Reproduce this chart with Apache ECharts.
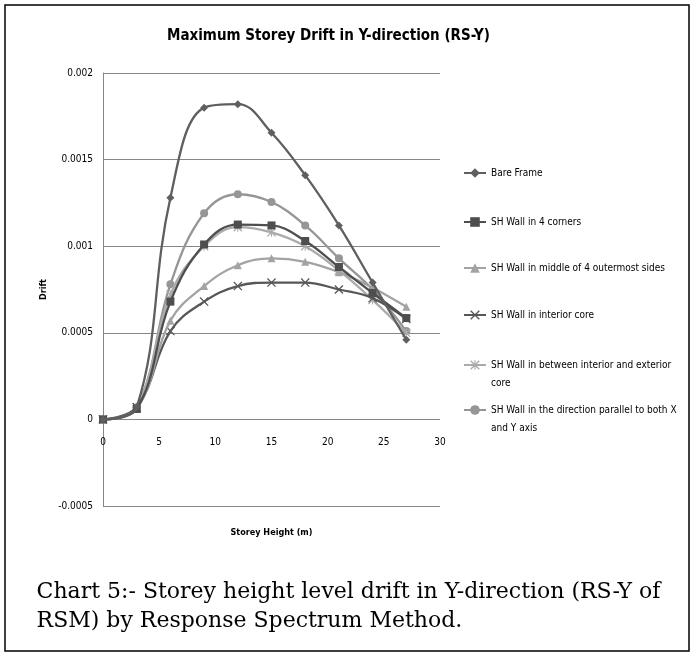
<!DOCTYPE html>
<html>
<head>
<meta charset="utf-8">
<script src="https://cdn.jsdelivr.net/npm/echarts@6/dist/echarts.min.js"></script>
<style>
html,body{margin:0;padding:0;background:#fff;}
#chart{width:697px;height:657px;}
</style>
</head>
<body>
<div id="chart"></div>
<script>
// ---- data ----
var heights = [0, 3, 6, 9, 12, 15, 18, 21, 24, 27];
var seriesNames = [
  'Bare Frame',
  'SH Wall in 4 corners',
  'SH Wall in middle of 4 outermost sides',
  'SH Wall in interior core',
  'SH Wall in between interior and exterior core',
  'SH Wall in the direction parallel to both X and Y axis'
];
var legendLabels = [
  'Bare Frame',
  'SH Wall in 4 corners',
  'SH Wall in middle of 4 outermost sides',
  'SH Wall in interior core',
  '\nSH Wall in between interior and exterior\ncore',
  '\nSH Wall in the direction parallel to both X\nand Y axis'
];
var bareFrame = [0, 0.00007, 0.00128, 0.0018, 0.00182, 0.001655, 0.00141, 0.00112, 0.00079, 0.00046];
var corners   = [0, 0.00006, 0.00068, 0.00101, 0.001125, 0.00112, 0.00103, 0.00088, 0.00073, 0.000585];
var middle    = [0, 0.00006, 0.00057, 0.00077, 0.00089, 0.00093, 0.00091, 0.00085, 0.00076, 0.00065];
var interior  = [0, 0.00007, 0.00051, 0.00068, 0.00077, 0.00079, 0.00079, 0.00075, 0.0007, 0.00058];
var between   = [0, 0.00007, 0.00072, 0.001, 0.00111, 0.00108, 0.001, 0.00086, 0.00069, 0.0005];
var parallel  = [0, 0.00007, 0.00078, 0.00119, 0.0013, 0.001255, 0.00112, 0.00093, 0.00075, 0.00051];
var yTicks = [-0.0005, 0, 0.0005, 0.001, 0.0015, 0.002];
var xTicks = [0, 5, 10, 15, 20, 25, 30];
var titleText = 'Maximum Storey Drift in Y-direction (RS-Y)';
var captionLines = ['Chart 5:- Storey height level drift in Y-direction (RS-Y of', 'RSM) by Response Spectrum Method.'];

var values = [bareFrame, corners, middle, interior, between, parallel];
var colors = ['#5f5f5f', '#4e4e4e', '#a3a3a3', '#575757', '#ababab', '#969696'];
var X_PATH = 'path://M0,1 L1,0 L5,4 L9,0 L10,1 L6,5 L10,9 L9,10 L5,6 L1,10 L0,9 L4,5 Z';
var STAR_PATH = 'path://M0,1 L1,0 L5,4 L9,0 L10,1 L6,5 L10,9 L9,10 L5,6 L1,10 L0,9 L4,5 Z M4.4,0 L5.6,0 L5.6,10 L4.4,10 Z';
var symbols = ['diamond', 'rect', 'triangle', X_PATH, STAR_PATH, 'circle'];
var symSizes = [8, 8, 8, 9, 9, 8];

var FONT = '"DejaVu Sans Condensed", "Liberation Sans", sans-serif';

var series = values.map(function (v, i) {
  return {
    name: seriesNames[i],
    type: 'line',
    smooth: 0.4,
    data: heights.map(function (h, j) { return [h, v[j]]; }),
    symbol: symbols[i],
    symbolSize: symSizes[i],
    showAllSymbol: true,
    lineStyle: { width: 2.3, color: colors[i] },
    itemStyle: { color: colors[i] },
    z: 10 - i
  };
});

var legendTops = [164, 213, 259, 306, 338, 383];
var legends = seriesNames.map(function (n, i) {
  return {
    data: [n],
    orient: 'vertical',
    left: 463,
    top: legendTops[i],
    padding: 0,
    itemWidth: 22,
    itemHeight: 12,
    itemGap: 0,
    selectedMode: false,
    formatter: function (name) { return legendLabels[seriesNames.indexOf(name)]; },
    textStyle: { fontFamily: FONT, fontSize: 10, color: '#000', lineHeight: 18 }
  };
});

var chart = echarts.init(document.getElementById('chart'), null, { renderer: 'canvas' });
chart.setOption({
  backgroundColor: '#fff',
  animation: false,
  title: {
    text: titleText,
    left: 167,
    top: 29,
    padding: 0,
    textStyle: { fontFamily: FONT, fontSize: 15, fontWeight: 'bold', color: '#000' }
  },
  legend: legends,
  grid: { left: 103, right: 257, top: 73, bottom: 151, containLabel: false },
  xAxis: {
    type: 'value',
    min: 0, max: 30, interval: 5,
    offset: -88,
    name: 'Storey Height (m)',
    nameLocation: 'middle',
    nameGap: 110,
    nameTextStyle: { fontFamily: FONT, fontSize: 9, fontWeight: 'bold', color: '#000' },
    axisLine: { onZero: false, show: false },
    axisTick: { show: false },
    splitLine: { show: false },
    axisLabel: {
      fontFamily: FONT, fontSize: 10, color: '#000', margin: 19,
      formatter: function (v) { return xTicks.indexOf(v) >= 0 ? String(v) : ''; }
    }
  },
  yAxis: {
    type: 'value',
    min: -0.0005, max: 0.002, interval: 0.0005,
    name: 'Drift',
    nameLocation: 'middle',
    nameRotate: 90,
    nameGap: 55,
    nameTextStyle: { fontFamily: FONT, fontSize: 9, fontWeight: 'bold', color: '#000' },
    axisLine: { show: true, lineStyle: { color: '#868686', width: 1 } },
    axisTick: { show: false },
    splitLine: { show: true, lineStyle: { color: '#868686', width: 1 } },
    axisLabel: {
      fontFamily: FONT, fontSize: 10, color: '#000', margin: 10,
      formatter: function (v) {
        for (var k = 0; k < yTicks.length; k++) {
          if (Math.abs(yTicks[k] - v) < 1e-9) return String(yTicks[k]);
        }
        return '';
      }
    }
  },
  graphic: [
    {
      type: 'rect', silent: true, z: -1,
      shape: { x: 5, y: 5, width: 684, height: 646 },
      style: { fill: 'none', stroke: '#000', lineWidth: 1.5 }
    },
    {
      type: 'text', left: 'center', top: 578,
      style: {
        text: captionLines.join('\n'),
        font: '22px "DejaVu Serif", "Liberation Serif", serif',
        fill: '#000', align: 'center', lineHeight: 29
      }
    }
  ],
  series: series
});
</script>
</body>
</html>
